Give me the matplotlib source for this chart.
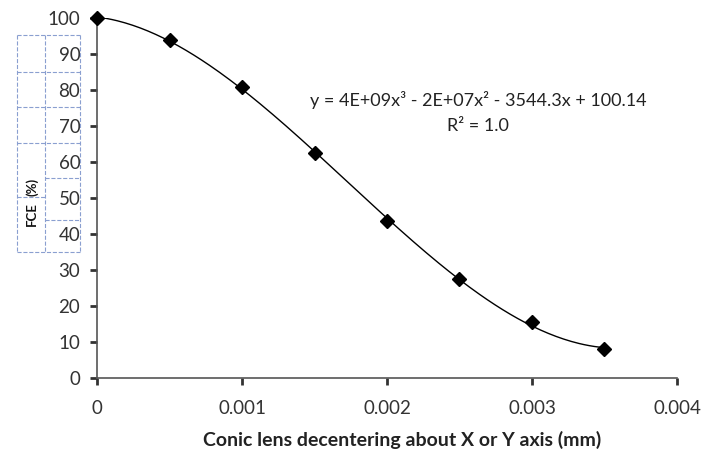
import numpy as np
import matplotlib.pyplot as plt
from matplotlib.lines import Line2D

plt.rcParams['font.family'] = ['Lato', 'DejaVu Sans']

decenter = [0, 0.0005, 0.001, 0.0015, 0.002, 0.0025, 0.003, 0.0035]
fce = [100, 93.8, 80.8, 62.6, 43.6, 27.4, 15.5, 8.0]
xticks = [0, 0.001, 0.002, 0.003, 0.004]
xtick_labels = ['0', '0.001', '0.002', '0.003', '0.004']
yticks = list(range(0, 101, 10))

fig = plt.figure(figsize=(7.03, 4.59), dpi=100)
ax = fig.add_axes([0.138, 0.176, 0.825, 0.785])

# cubic trendline through the points
coef = np.polyfit(decenter, fce, 3)
xs = np.linspace(0, 0.0035, 200)
ax.plot(xs, np.polyval(coef, xs), color='black', lw=1.0, zorder=2)
ax.plot(decenter, fce, ls='none', marker='D', ms=7, color='black', zorder=3, clip_on=False)

ax.set_xlim(0, 0.004)
ax.set_ylim(0, 100)
ax.set_xticks(xticks)
ax.set_xticklabels(xtick_labels)
ax.set_yticks(yticks)
for s in ['top', 'right']:
    ax.spines[s].set_visible(False)
for s in ['left', 'bottom']:
    ax.spines[s].set_color('#555555')
    ax.spines[s].set_linewidth(1.2)
ax.tick_params(axis='both', colors='#333333', labelsize=13.5, width=2, length=5, direction='out')
ax.tick_params(axis='x', pad=11)
ax.tick_params(axis='y', pad=7)

ax.text(0.00263, 77.2, 'y = 4E+09x³ - 2E+07x² - 3544.3x + 100.14', ha='center', va='center',
        fontsize=13, color='#222222')
ax.text(0.00263, 70, 'R² = 1.0', ha='center', va='center', fontsize=13, color='#222222')

fig.text(0.572, 0.042, 'Conic lens decentering about X or Y axis (mm)', ha='center', va='center',
         fontsize=14, fontweight='bold', color='#222222')

# y label sits in a dashed table cell grid
W, H = 703, 459
def hline(x0, x1, y):
    fig.add_artist(Line2D([x0 / W, x1 / W], [1 - y / H, 1 - y / H], ls='--', lw=0.8, color='#8a9fd0'))
def vline(x, y0, y1):
    fig.add_artist(Line2D([x / W, x / W], [1 - y0 / H, 1 - y1 / H], ls='--', lw=0.8, color='#8a9fd0'))

vline(17, 35, 252)
vline(80, 35, 252)
vline(45, 35, 252)
for y in [35, 72, 107, 143, 252]:
    hline(17, 80, y)
hline(45, 80, 178)
hline(17, 45, 197)
hline(45, 80, 220)

fig.text(32 / W, 1 - 214 / H, 'FCE', rotation=90, ha='center', va='center', fontsize=9.5,
         fontweight='bold', color='#111111')
fig.text(32 / W, 1 - 187 / H, '(%)', rotation=90, ha='center', va='center', fontsize=9.5,
         fontweight='bold', color='#111111')

fig.savefig('out.png', dpi=100)
